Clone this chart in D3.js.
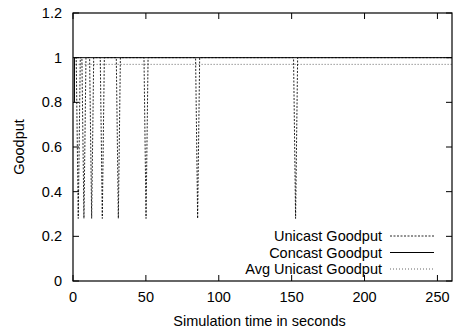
<!DOCTYPE html>
<html>
<head>
<meta charset="utf-8">
<style>
  body { margin: 0; background: #fff; }
  svg { display: block; font-family: "Liberation Sans", Arial, sans-serif; }
</style>
</head>
<body>
<svg width="454" height="331"></svg>
<script src="https://d3js.org/d3.v7.min.js"></script>
<script>

// Unicast goodput: sits at 1 with short V-shaped drops to ~0.28
var unicastTime  = [1.5, 2.2, 3.6, 5.0, 6.1, 7.5, 8.9, 11.4, 12.8, 14.2, 18.7, 20.1, 21.5, 29.7, 31.1, 32.5, 48.7, 50.1, 51.5, 84.1, 85.5, 86.9, 151.3, 152.7, 154.1, 260];
var unicastValue = [1,   1,   0.28, 1,   1,   0.28, 1,   1,    0.28, 1,    1,    0.28, 1,    1,    0.28, 1,    1,    0.28, 1,    1,    0.28, 1,    1,     0.28,  1,     1];

// Concast goodput: starts near 0.8, then flat at 1
var concastTime  = [1, 1, 260];
var concastValue = [0.8, 1, 1];

// Average unicast goodput
var avgTime  = [1.8, 260];
var avgValue = [0.97, 0.97];

var xTicks = [0, 50, 100, 150, 200, 250];
var yTicks = [0, 0.2, 0.4, 0.6, 0.8, 1, 1.2];
var seriesNames = ["Unicast Goodput", "Concast Goodput", "Avg Unicast Goodput"];

var svg = d3.select("svg"),
    margin = {top: 13, right: 2, bottom: 50, left: 73},
    width = +svg.attr("width") - margin.left - margin.right,
    height = +svg.attr("height") - margin.top - margin.bottom,
    g = svg.append("g").attr("transform", "translate(" + margin.left + "," + margin.top + ")");

var x = d3.scaleLinear().domain([0, 260]).range([0, width]);
var y = d3.scaleLinear().domain([0, 1.2]).range([height, 0]);

var fontSize = 14.5;

// inward ticks on all four sides, like gnuplot
var tickLen = 6;
g.append("g").selectAll("line.xb").data(xTicks).enter().append("line")
    .attr("x1", function(d) { return x(d); }).attr("x2", function(d) { return x(d); })
    .attr("y1", height).attr("y2", height - tickLen)
    .attr("stroke", "#000");
g.append("g").selectAll("line.xt").data(xTicks).enter().append("line")
    .attr("x1", function(d) { return x(d); }).attr("x2", function(d) { return x(d); })
    .attr("y1", 0).attr("y2", tickLen)
    .attr("stroke", "#000");
g.append("g").selectAll("line.yl").data(yTicks).enter().append("line")
    .attr("y1", function(d) { return y(d); }).attr("y2", function(d) { return y(d); })
    .attr("x1", 0).attr("x2", tickLen)
    .attr("stroke", "#000");
g.append("g").selectAll("line.yr").data(yTicks).enter().append("line")
    .attr("y1", function(d) { return y(d); }).attr("y2", function(d) { return y(d); })
    .attr("x1", width).attr("x2", width - tickLen)
    .attr("stroke", "#000");

g.append("g").selectAll("text").data(xTicks).enter().append("text")
    .attr("x", function(d) { return x(d); })
    .attr("y", height + 21)
    .attr("text-anchor", "middle")
    .attr("font-size", fontSize)
    .text(function(d) { return d; });

g.append("g").selectAll("text").data(yTicks).enter().append("text")
    .attr("x", -11)
    .attr("y", function(d) { return y(d); })
    .attr("dy", "0.35em")
    .attr("text-anchor", "end")
    .attr("font-size", fontSize)
    .text(function(d) { return d; });

svg.append("text")
    .attr("x", margin.left + width / 2 - 3)
    .attr("y", 326)
    .attr("text-anchor", "middle")
    .attr("font-size", fontSize)
    .text("Simulation time in seconds");

svg.append("text")
    .attr("transform", "translate(24," + (margin.top + height / 2) + ") rotate(-90)")
    .attr("text-anchor", "middle")
    .attr("font-size", fontSize)
    .text("Goodput");

svg.append("defs").append("clipPath").attr("id", "clip")
  .append("rect").attr("width", width).attr("height", height);

var line = d3.line()
    .x(function(d) { return x(d[0]); })
    .y(function(d) { return y(d[1]); });

var styles = [
  {stroke: "#000", dash: "2,1.5", width: 1, opacity: 0.85},
  {stroke: "#000", dash: null, width: 1, opacity: 1},
  {stroke: "#000", dash: "1,2", width: 1, opacity: 0.6}
];

var series = [
  d3.zip(unicastTime, unicastValue),
  d3.zip(concastTime, concastValue),
  d3.zip(avgTime, avgValue)
];

var plot = g.append("g").attr("clip-path", "url(#clip)");
plot.selectAll("path").data(series).enter().append("path")
    .attr("d", line)
    .attr("fill", "none")
    .attr("stroke", function(d, i) { return styles[i].stroke; })
    .attr("stroke-width", function(d, i) { return styles[i].width; })
    .attr("stroke-opacity", function(d, i) { return styles[i].opacity; })
    .attr("stroke-dasharray", function(d, i) { return styles[i].dash; });

// legend, lower right inside the frame
var legend = g.append("g").selectAll("g").data(seriesNames).enter().append("g")
    .attr("transform", function(d, i) { return "translate(0," + (223 + i * 16.5) + ")"; });
legend.append("text")
    .attr("x", 309)
    .attr("dy", "0.35em")
    .attr("text-anchor", "end")
    .attr("font-size", fontSize)
    .text(function(d) { return d; });
legend.append("line")
    .attr("x1", 317).attr("x2", 361)
    .attr("stroke", function(d, i) { return styles[i].stroke; })
    .attr("stroke-opacity", function(d, i) { return styles[i].opacity; })
    .attr("stroke-dasharray", function(d, i) { return styles[i].dash; });

g.append("rect")
    .attr("width", width).attr("height", height)
    .attr("fill", "none")
    .attr("stroke", "#000")
    .attr("stroke-width", 1.2);

</script>
</body>
</html>
